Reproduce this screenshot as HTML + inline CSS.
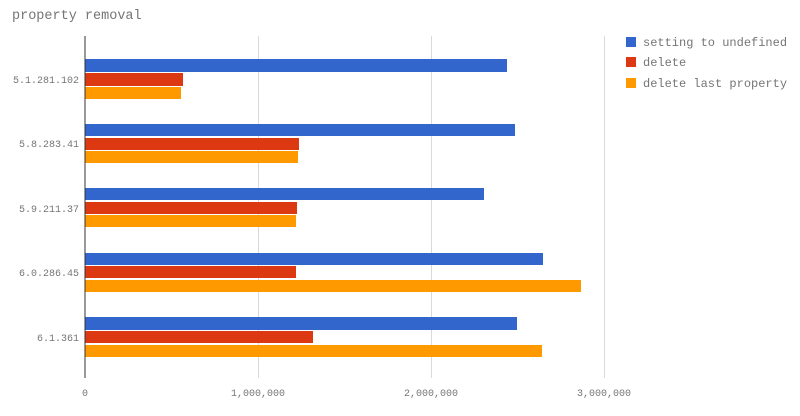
<!DOCTYPE html>
<html><head><style>
body{margin:0;background:#fff;}
svg text{font-family:"Liberation Mono",monospace;fill:#757575;}
</style></head><body>
<svg width="800" height="411" xmlns="http://www.w3.org/2000/svg">
<text x="12" y="19" font-size="13.5" fill="#757575">property removal</text>
<g stroke="#d9d9d9" stroke-width="1">
<line x1="258.5" y1="36" x2="258.5" y2="378"/>
<line x1="431.5" y1="36" x2="431.5" y2="378"/>
<line x1="604.5" y1="36" x2="604.5" y2="378"/>
</g>
<g font-size="10" text-anchor="middle">
<text x="85" y="396">0</text>
<text x="258" y="396">1,000,000</text>
<text x="431" y="396">2,000,000</text>
<text x="604" y="396">3,000,000</text>
</g>
<g font-size="10" text-anchor="end">
<text x="79" y="83">5.1.281.102</text>
<text x="79" y="147">5.8.283.41</text>
<text x="79" y="212">5.9.211.37</text>
<text x="79" y="276">6.0.286.45</text>
<text x="79" y="341">6.1.361</text>
</g>
<g>
<rect x="85" y="59" width="422" height="13" fill="#3366cc"/>
<rect x="85" y="73" width="98" height="13" fill="#dc3912"/>
<rect x="85" y="87" width="96" height="12" fill="#ff9900"/>

<rect x="85" y="124" width="430" height="12" fill="#3366cc"/>
<rect x="85" y="138" width="214" height="12" fill="#dc3912"/>
<rect x="85" y="151" width="213" height="12" fill="#ff9900"/>

<rect x="85" y="188" width="399" height="12" fill="#3366cc"/>
<rect x="85" y="202" width="212" height="12" fill="#dc3912"/>
<rect x="85" y="215" width="211" height="12" fill="#ff9900"/>

<rect x="85" y="253" width="458" height="12" fill="#3366cc"/>
<rect x="85" y="266" width="211" height="12" fill="#dc3912"/>
<rect x="85" y="280" width="496" height="12" fill="#ff9900"/>

<rect x="85" y="317" width="432" height="13" fill="#3366cc"/>
<rect x="85" y="331" width="228" height="12" fill="#dc3912"/>
<rect x="85" y="345" width="457" height="12" fill="#ff9900"/>
</g>
<line x1="85" y1="36" x2="85" y2="378" stroke="#333" stroke-width="1"/>
<rect x="626" y="37" width="10" height="10" fill="#3366cc"/>
<rect x="626" y="57" width="10" height="10" fill="#dc3912"/>
<rect x="626" y="78" width="10" height="10" fill="#ff9900"/>
<g font-size="12">
<text x="643" y="46">setting to undefined</text>
<text x="643" y="66">delete</text>
<text x="643" y="87">delete last property</text>
</g>
</svg>
</body></html>
